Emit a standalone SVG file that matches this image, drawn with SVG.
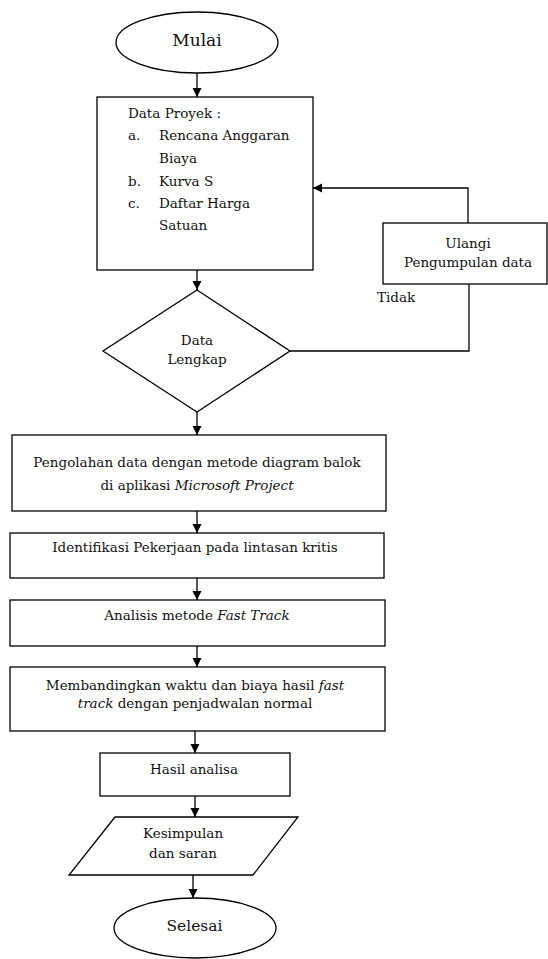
<svg xmlns="http://www.w3.org/2000/svg" width="548" height="959" viewBox="0 0 548 959">
<defs>
<marker id="ah" markerWidth="10" markerHeight="10" refX="9" refY="5" orient="auto" markerUnits="userSpaceOnUse">
<path d="M0,0.5 L9,5 L0,9.5 Z" fill="#000"/>
</marker>
<style>
.s{fill:#fff;stroke:#000;stroke-width:1.3}
.c{fill:none;stroke:#000;stroke-width:1.3}
text{font-family:'DejaVu Serif','Liberation Serif',serif;font-size:13.5px;fill:#111}
.m{text-anchor:middle}
.t{font-size:17px}
</style>
</defs>
<rect width="548" height="959" fill="#fff"/>
<g id="connectors">
<line class="c" x1="197" y1="73" x2="197" y2="97" marker-end="url(#ah)"/>
<line class="c" x1="197" y1="270" x2="197" y2="290" marker-end="url(#ah)"/>
<polyline class="c" points="290,351 469,351 469,284"/>
<polyline class="c" points="468,223 468,188 313,188" marker-end="url(#ah)"/>
<line class="c" x1="197" y1="412" x2="197" y2="435" marker-end="url(#ah)"/>
<line class="c" x1="197" y1="511" x2="197" y2="533" marker-end="url(#ah)"/>
<line class="c" x1="197" y1="578" x2="197" y2="600" marker-end="url(#ah)"/>
<line class="c" x1="197" y1="646" x2="197" y2="667" marker-end="url(#ah)"/>
<line class="c" x1="195" y1="731" x2="195" y2="753" marker-end="url(#ah)"/>
<line class="c" x1="195" y1="796" x2="195" y2="817" marker-end="url(#ah)"/>
<line class="c" x1="193" y1="875" x2="193" y2="898" marker-end="url(#ah)"/>
<text x="377" y="302">Tidak</text>
</g>
<g id="mulai">
<ellipse class="s" cx="197" cy="42.5" rx="81" ry="30.5"/>
<text class="m t" x="197" y="46">Mulai</text>
</g>
<g id="data-proyek">
<rect class="s" x="97" y="97" width="216" height="173"/>
<text x="128" y="118">Data Proyek :</text>
<text x="128" y="140">a.</text><text x="159" y="140">Rencana Anggaran</text>
<text x="159" y="163">Biaya</text>
<text x="128" y="186">b.</text><text x="159" y="186">Kurva S</text>
<text x="128" y="208">c.</text><text x="159" y="208">Daftar Harga</text>
<text x="159" y="230">Satuan</text>
</g>
<g id="ulangi">
<rect class="s" x="383" y="223" width="164" height="61"/>
<text class="m" x="468" y="248">Ulangi</text>
<text class="m" x="468" y="267">Pengumpulan data</text>
</g>
<g id="data-lengkap">
<polygon class="s" points="197,290 290,351 197,412 103,351"/>
<text class="m" x="197" y="345">Data</text>
<text class="m" x="197" y="364">Lengkap</text>
</g>
<g id="pengolahan">
<rect class="s" x="12" y="435" width="374" height="76"/>
<text class="m" x="197" y="467">Pengolahan data dengan metode diagram balok</text>
<text class="m" x="197" y="490">di aplikasi <tspan font-style="italic">Microsoft Project</tspan></text>
</g>
<g id="identifikasi">
<rect class="s" x="10" y="533" width="374" height="45"/>
<text class="m" x="195" y="552">Identifikasi Pekerjaan pada lintasan kritis</text>
</g>
<g id="analisis">
<rect class="s" x="10" y="600" width="375" height="46"/>
<text class="m" x="197" y="620">Analisis metode <tspan font-style="italic">Fast Track</tspan></text>
</g>
<g id="membandingkan">
<rect class="s" x="10" y="667" width="375" height="64"/>
<text class="m" x="195" y="690">Membandingkan waktu dan biaya hasil <tspan font-style="italic">fast</tspan></text>
<text class="m" x="195" y="708"><tspan font-style="italic">track</tspan> dengan penjadwalan normal</text>
</g>
<g id="hasil">
<rect class="s" x="100" y="753" width="190" height="43"/>
<text class="m" x="194" y="774">Hasil analisa</text>
</g>
<g id="kesimpulan">
<polygon class="s" points="115,817 298,817 253,875 69,875"/>
<text class="m" x="183" y="838">Kesimpulan</text>
<text class="m" x="183" y="858">dan saran</text>
</g>
<g id="selesai">
<ellipse class="s" cx="195" cy="928" rx="81" ry="30"/>
<text class="m" x="194.5" y="931" style="font-size:15.5px">Selesai</text>
</g>
</svg>
